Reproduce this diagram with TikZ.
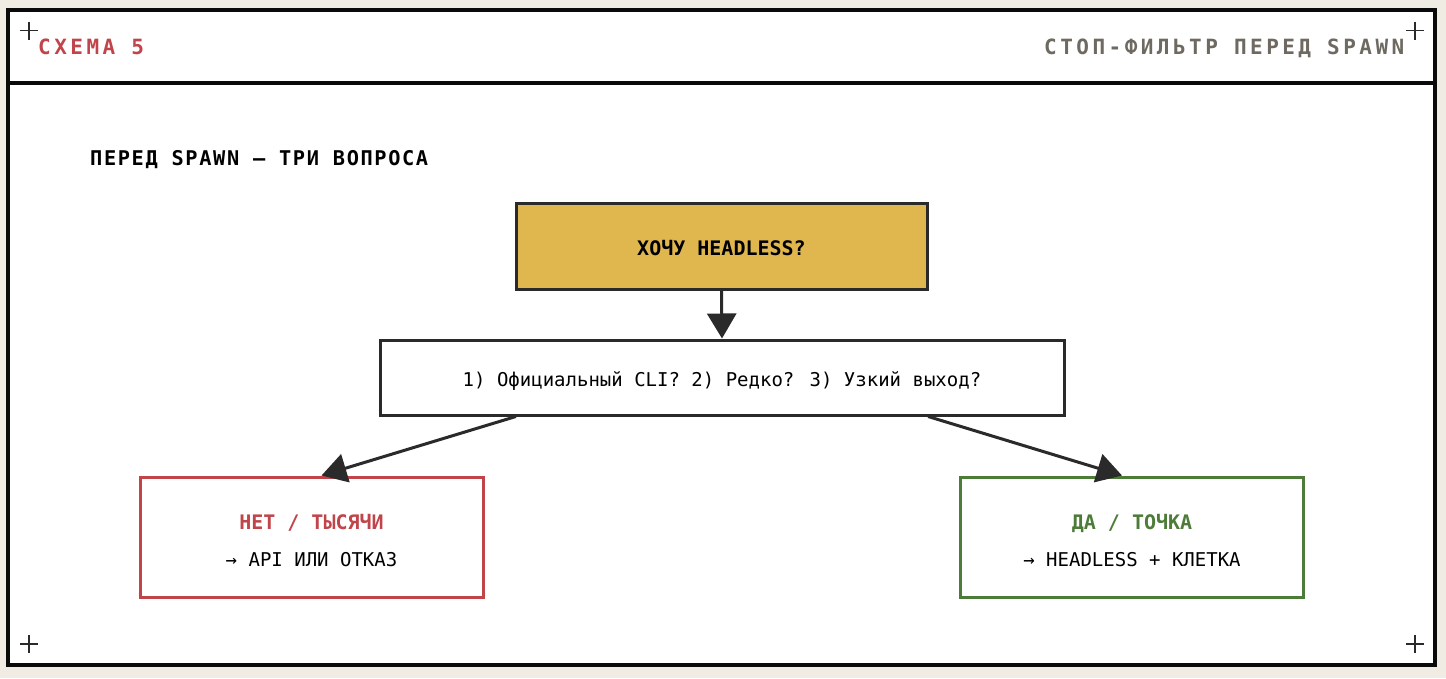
\documentclass[tikz,border=0pt]{standalone}
\usepackage{fontspec}
\setmainfont{DejaVu Sans Mono}
\newfontfamily\hdrfont[LetterSpace=16.5]{DejaVu Sans Mono}
\newfontfamily\ttlfont[LetterSpace=8]{DejaVu Sans Mono}
\usetikzlibrary{arrows.meta,calc}
\definecolor{bgc}{HTML}{F0ECE3}
\definecolor{framec}{HTML}{0A0A0A}
\definecolor{darkc}{HTML}{2A2A2A}
\definecolor{goldc}{HTML}{E0B64E}
\definecolor{redc}{HTML}{C1444B}
\definecolor{greenc}{HTML}{4D7C38}
\definecolor{grayc}{HTML}{6E6A62}
\tikzset{
  cross/.style={draw=darkc, line width=1.6pt},
  boxbase/.style={rectangle, line width=3pt, inner sep=0pt},
  goldbox/.style={boxbase, draw=darkc, fill=goldc, minimum width=411pt, minimum height=86pt,
    text height=18pt, text depth=0pt, font=\fontsize{20}{24}\selectfont\bfseries},
  midbox/.style={boxbase, draw=darkc, fill=white, minimum width=684pt, minimum height=75pt,
    text height=17pt, text depth=0pt, font=\fontsize{19}{23}\selectfont},
  outbox/.style={boxbase, fill=white, minimum width=343pt, minimum height=120pt},
  headtxt/.style={anchor=base, inner sep=0pt, font=\fontsize{20}{24}\selectfont\bfseries},
  subtxt/.style={anchor=base, inner sep=0pt, font=\fontsize{19}{23}\selectfont, text=black},
  conn/.style={draw=darkc, line width=3pt, -{Triangle[length=25pt,width=29pt]}}
}
\begin{document}
\begin{tikzpicture}[x=1pt,y=-1pt]
\useasboundingbox (0,0) rectangle (1446,678);
\fill[bgc] (0,0) rectangle (1446,678);
\draw[framec, line width=4pt, fill=white] (8,10) rectangle (1435,664.5);
\draw[framec, line width=4pt] (8,83) -- (1435,83);
% corner crosses
\foreach \cx/\cy in {29/30.5, 1415/30.5, 29/644, 1415/644} {
  \draw[cross] (\cx-9,\cy) -- (\cx+9,\cy);
  \draw[cross] (\cx,\cy-9) -- (\cx,\cy+9);
}
% header
\node[anchor=base west, inner sep=0pt, text=redc, font=\hdrfont\fontsize{21}{25}\selectfont\bfseries] (hl) at (38,54.5) {СХЕМА 5};
\node[anchor=base east, inner sep=0pt, text=grayc, font=\hdrfont\fontsize{21}{25}\selectfont\bfseries] (hr) at (1404.5,54.5) {СТОП-ФИЛЬТР ПЕРЕД SPAWN};
% title
\node[anchor=base west, inner sep=0pt, text=black, font=\ttlfont\fontsize{20.3}{24}\selectfont\bfseries] (title) at (90,165) {ПЕРЕД SPAWN — ТРИ ВОПРОСА};
% boxes
\node[goldbox] (q) at (721.5,246) {ХОЧУ HEADLESS?};
\node[midbox] (mid) at (722,377.5) {1) Официальный CLI? 2) Редко? 3) Узкий выход?};
\node[outbox, draw=redc] (no) at (311.5,537) {};
\node[headtxt, text=redc] (noT) at ($(no.center)+(0,-8)$) {НЕТ / ТЫСЯЧИ};
\node[subtxt] (noS) at ($(no.center)+(0,29)$) {→ API ИЛИ ОТКАЗ};
\node[outbox, draw=greenc] (yes) at (1132,537) {};
\node[headtxt, text=greenc] (yesT) at ($(yes.center)+(0,-8)$) {ДА / ТОЧКА};
\node[subtxt] (yesS) at ($(yes.center)+(0,29)$) {→ HEADLESS + КЛЕТКА};
% connectors
\draw[conn] (q.south) -- (mid.north);
\draw[conn] ($(mid.south west)!0.2!(mid.south east)$) -- ($(no.north)+(10,0)$);
\draw[conn] ($(mid.south west)!0.8!(mid.south east)$) -- ($(yes.north)+(-10,0)$);
\end{tikzpicture}
\end{document}
